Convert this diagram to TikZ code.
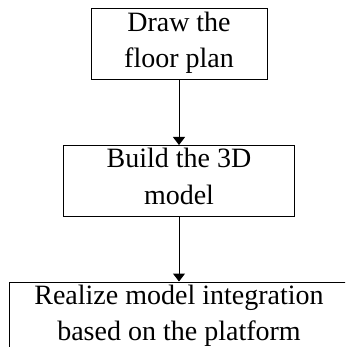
\documentclass[tikz,border=0pt]{standalone}
\usepackage{fontspec}
\setmainfont{Liberation Serif}
\usetikzlibrary{positioning, arrows.meta}
\newcommand{\boxstrut}{\rule[-9.5pt]{0pt}{26pt}}

\begin{document}
\begin{tikzpicture}[node distance=64.5pt]
\tikzstyle{stepBox} = [rectangle, draw=black, line width=1pt, inner sep=0pt, minimum height=71pt, align=center, font=\fontsize{28}{36.5}\selectfont, execute at begin node=\boxstrut, execute at end node=\boxstrut]
\tikzstyle{flowArrow} = [-{Triangle[width=12pt, length=8pt]}, line width=1pt]

\clip (0pt,0pt) rectangle (345pt,-347pt);

\node (floorplan) [stepBox, minimum width=176pt] at (179pt,-44.5pt) {Draw the\\floor plan};
\node (model) [stepBox, minimum width=231pt, below=of floorplan] {Build the 3D\\model};
\node (integration) [stepBox, minimum width=340pt, below=of model] {Realize model integration\\based on the platform};

\draw[flowArrow] (floorplan) -- (model);
\draw[flowArrow] (model) -- (integration);

\end{tikzpicture}
\end{document}
